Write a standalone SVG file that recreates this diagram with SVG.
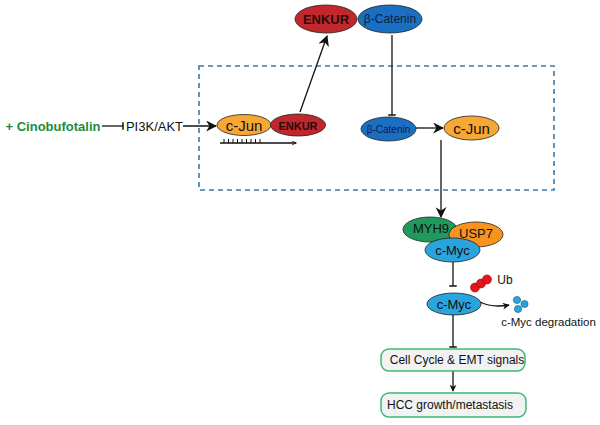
<svg xmlns="http://www.w3.org/2000/svg" width="600" height="425" viewBox="0 0 600 425">
<defs>
<style>
text{font-family:"Liberation Sans",Arial,sans-serif;text-anchor:middle;dominant-baseline:central;fill:#111}
.ln{stroke:#111;stroke-width:1.3;fill:none}
.el{stroke:#222;stroke-width:0.8}
.red{fill:#c1272d}
.blue{fill:#1b6fc2}
.orange{fill:#f7a733}
.lb{fill:#2aa4dc}
.box{fill:#f2f2f2;stroke:#3db87a;stroke-width:1.5}
</style>
<marker id="arr" viewBox="0 0 10 10" refX="9" refY="5" markerWidth="7" markerHeight="7" orient="auto" markerUnits="userSpaceOnUse">
<path d="M0,0 L10,5 L0,10 L3,5 Z" fill="#111"/>
</marker>
<marker id="arrB" viewBox="0 0 10 10" refX="9" refY="5" markerWidth="11" markerHeight="11" orient="auto" markerUnits="userSpaceOnUse">
<path d="M0,0 L10,5 L0,10 L3,5 Z" fill="#111"/>
</marker>
<marker id="arrS" viewBox="0 0 10 10" refX="9" refY="5" markerWidth="5" markerHeight="5" orient="auto" markerUnits="userSpaceOnUse">
<path d="M0,1 L10,5 L0,9" fill="none" stroke="#111" stroke-width="1.5"/>
</marker>
<marker id="tee" viewBox="0 0 4 10" refX="2" refY="5" markerWidth="3" markerHeight="9" orient="auto" markerUnits="userSpaceOnUse">
<rect x="1" y="0" width="2" height="10" fill="#111"/>
</marker>
</defs>

<rect id="nucleus" x="199" y="66" width="355" height="124" fill="none" stroke="#3a7aa8" stroke-width="1.6" stroke-dasharray="5,4"/>

<g id="connectors">
<line class="ln" x1="102" y1="126" x2="123" y2="126" marker-end="url(#tee)"/>
<line class="ln" x1="183" y1="126" x2="216" y2="126" marker-end="url(#arrB)"/>
<line class="ln" x1="300" y1="112" x2="327" y2="36" marker-end="url(#arrB)"/>
<line class="ln" x1="392" y1="35" x2="392" y2="115" marker-end="url(#tee)"/>
<line class="ln" x1="416" y1="128" x2="443" y2="128" marker-end="url(#arrB)"/>
<line class="ln" x1="441" y1="140" x2="441" y2="217" marker-end="url(#arrB)"/>
<line class="ln" x1="453" y1="262" x2="453" y2="286" marker-end="url(#tee)"/>
<path class="ln" d="M480,302 Q492,308 509,305" marker-end="url(#arr)"/>
<line class="ln" x1="453" y1="315" x2="453" y2="347" marker-end="url(#tee)"/>
<line class="ln" x1="453" y1="371" x2="453" y2="391" marker-end="url(#arr)"/>
<line class="ln" x1="220" y1="143" x2="296" y2="143" marker-end="url(#arrS)"/>
<path stroke="#111" stroke-width="1" d="M224,139v4M228.5,139v4M233,139v4M237.5,139v4M242,139v4M246.5,139v4M251,139v4M255.5,139v4M260,139v4"/>
</g>

<g id="cinobufotalin"><text x="53" y="126" style="fill:#1f8a3c;font-weight:bold;font-size:13px">+ Cinobufotalin</text></g>
<g id="pi3k"><text x="154.5" y="126" style="font-size:13px">PI3K/AKT</text></g>

<g id="cjun1"><ellipse class="el orange" cx="244" cy="125" rx="27" ry="10.5"/><text x="244" y="125" style="font-size:15px">c-Jun</text></g>
<g id="enkur1"><ellipse class="el red" cx="298" cy="125" rx="27.5" ry="11"/><text x="298" y="125.5" style="font-size:11px;font-weight:bold;fill:#2a0a0a">ENKUR</text></g>

<g id="enkur2"><ellipse class="el red" cx="326" cy="19" rx="31" ry="14"/><text x="326" y="19.5" style="font-size:13px;font-weight:bold;fill:#2a0a0a">ENKUR</text></g>
<g id="bcat1"><ellipse class="el blue" cx="390" cy="19" rx="32" ry="14"/><text x="390" y="19" style="font-size:12px;fill:#0d2040">β-Catenin</text></g>

<g id="bcat2"><ellipse class="el blue" cx="388.5" cy="129" rx="27.5" ry="12"/><text x="388.5" y="129.5" style="font-size:10px;fill:#0d2040">β-Catenin</text></g>
<g id="cjun2"><ellipse class="el orange" cx="471.5" cy="128" rx="27.5" ry="12"/><text x="471.5" y="128" style="font-size:15px">c-Jun</text></g>

<g id="myh9"><ellipse class="el" style="fill:#1e9b5c" cx="430" cy="229.5" rx="27" ry="12.5"/><text x="431" y="228" style="font-size:13px">MYH9</text></g>
<g id="usp7"><ellipse class="el" style="fill:#f7941d" cx="476" cy="234.5" rx="27" ry="12.5"/><text x="476" y="233" style="font-size:13px">USP7</text></g>
<g id="cmyc1"><ellipse class="el lb" cx="452.5" cy="250" rx="27.5" ry="12"/><text x="452.5" y="250" style="font-size:13px">c-Myc</text></g>

<g id="ub">
<circle cx="475" cy="287.5" r="4.5" fill="#e8141c" stroke="#8a0a0a" stroke-width="0.6"/>
<circle cx="481" cy="283.5" r="4.5" fill="#e8141c" stroke="#8a0a0a" stroke-width="0.6"/>
<circle cx="487" cy="279.5" r="4.5" fill="#e8141c" stroke="#8a0a0a" stroke-width="0.6"/>
<text x="505" y="280" style="font-size:12px">Ub</text>
</g>
<g id="cmyc2"><ellipse class="el lb" cx="454" cy="304" rx="27" ry="11"/><text x="454" y="304" style="font-size:13px">c-Myc</text></g>

<g id="degradation">
<circle cx="517" cy="300" r="3.6" fill="#2aa4dc" stroke="#135a80" stroke-width="0.6"/>
<circle cx="524.5" cy="304" r="3.6" fill="#2aa4dc" stroke="#135a80" stroke-width="0.6"/>
<circle cx="518" cy="309" r="3.6" fill="#2aa4dc" stroke="#135a80" stroke-width="0.6"/>
<text x="548.5" y="322" style="font-size:11.5px">c-Myc degradation</text>
</g>

<g id="cellcycle"><rect class="box" x="381" y="349" width="144" height="22" rx="8"/><text x="457" y="360" style="font-size:12px">Cell Cycle &amp; EMT signals</text></g>
<g id="hcc"><rect class="box" x="381" y="393" width="145" height="24" rx="8"/><text x="450" y="405" style="font-size:12px">HCC growth/metastasis</text></g>
</svg>
